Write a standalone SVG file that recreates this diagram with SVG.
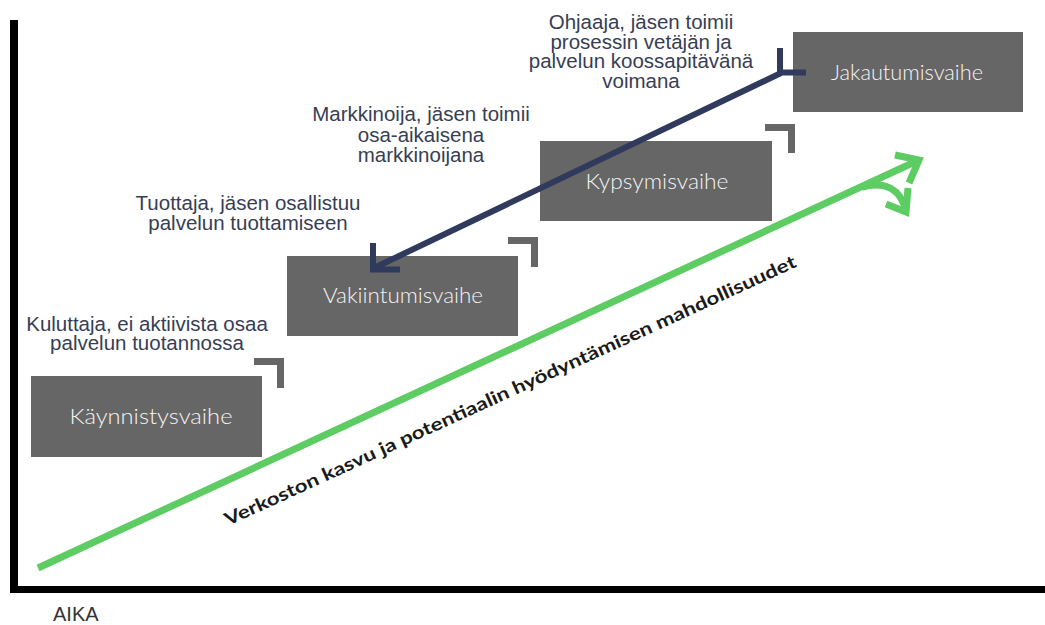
<svg xmlns="http://www.w3.org/2000/svg" width="1045" height="625" viewBox="0 0 1045 625">
<style>
.box{fill:#666666}
.blabel{font-family:"Lato","Open Sans",sans-serif;font-weight:300;font-size:22px;fill:#f4f4f4;text-anchor:middle}
.brk{fill:none;stroke:#666666;stroke-width:7;stroke-linejoin:miter}
.note{font-family:"Liberation Sans",Arial,sans-serif;font-size:20.5px;fill:#373e54;text-anchor:middle}
.green{fill:none;stroke:#5dcc63;stroke-width:7;stroke-linejoin:miter}
.navy{fill:none;stroke:#2f3a5c;stroke-width:6;stroke-linejoin:miter}
.axis{fill:#000}
</style>
<rect width="1045" height="625" fill="#ffffff"/>
<g id="axes">
<rect class="axis" x="10" y="20" width="8" height="573"/>
<rect class="axis" x="10" y="586" width="1035" height="7"/>
<text x="53" y="621" font-family="Liberation Sans, Arial, sans-serif" font-size="20" fill="#333">AIKA</text>
</g>
<g id="kaynnistys">
<rect class="box" x="31" y="376" width="231" height="81"/>
<text class="blabel" x="151" y="424" textLength="163" lengthAdjust="spacingAndGlyphs">Käynnistysvaihe</text>
<path class="brk" d="M254 361.5 H280.5 V388"/>
</g>
<g id="vakiintumis">
<rect class="box" x="287" y="256" width="231" height="80"/>
<text class="blabel" x="403" y="303" textLength="160" lengthAdjust="spacingAndGlyphs">Vakiintumisvaihe</text>
<path class="brk" d="M508 240.5 H534.5 V267"/>
</g>
<g id="kypsymis">
<rect class="box" x="540" y="141" width="232" height="80"/>
<text class="blabel" x="657" y="189" textLength="143" lengthAdjust="spacingAndGlyphs">Kypsymisvaihe</text>
<path class="brk" d="M765 127.5 H791.5 V153"/>
</g>
<g id="jakautumis">
<rect class="box" x="793" y="32" width="230" height="80"/>
<text class="blabel" x="907" y="80" textLength="152" lengthAdjust="spacingAndGlyphs">Jakautumisvaihe</text>
</g>
<g id="note-kuluttaja">
<text class="note" x="147" y="331">Kuluttaja, ei aktiivista osaa</text>
<text class="note" x="147" y="350">palvelun tuotannossa</text>
</g>
<g id="note-tuottaja">
<text class="note" x="248" y="210">Tuottaja, jäsen osallistuu</text>
<text class="note" x="248" y="230">palvelun tuottamiseen</text>
</g>
<g id="note-markkinoija">
<text class="note" x="421" y="121">Markkinoija, jäsen toimii</text>
<text class="note" x="421" y="141.5">osa-aikaisena</text>
<text class="note" x="421" y="162">markkinoijana</text>
</g>
<g id="note-ohjaaja">
<text class="note" x="641" y="29">Ohjaaja, jäsen toimii</text>
<text class="note" x="641" y="48.5">prosessin vetäjän ja</text>
<text class="note" x="641" y="68">palvelun koossapitävänä</text>
<text class="note" x="641" y="88">voimana</text>
</g>
<g id="growth-label">
<text x="228" y="526" transform="rotate(-24.5 228 526)" textLength="626" lengthAdjust="spacingAndGlyphs" font-family="Lato, 'DejaVu Sans', sans-serif" font-weight="700" font-size="18" fill="#1a1a1a">Verkoston kasvu ja potentiaalin hyödyntämisen mahdollisuudet</text>
</g>
<g id="connectors">
<path class="green" d="M38 568 L919 160"/>
<path class="green" d="M895 155 L919 160 L909 183"/>
<path class="green" d="M862 187 Q898 178 906 211"/>
<path class="green" d="M886 204 L906 212 L908 188"/>
<path class="navy" d="M376 267 L781 73"/>
<path class="navy" d="M373 243 V269.5 H400"/>
<path class="navy" d="M780 48 V72.5 H806"/>
</g>
</svg>
